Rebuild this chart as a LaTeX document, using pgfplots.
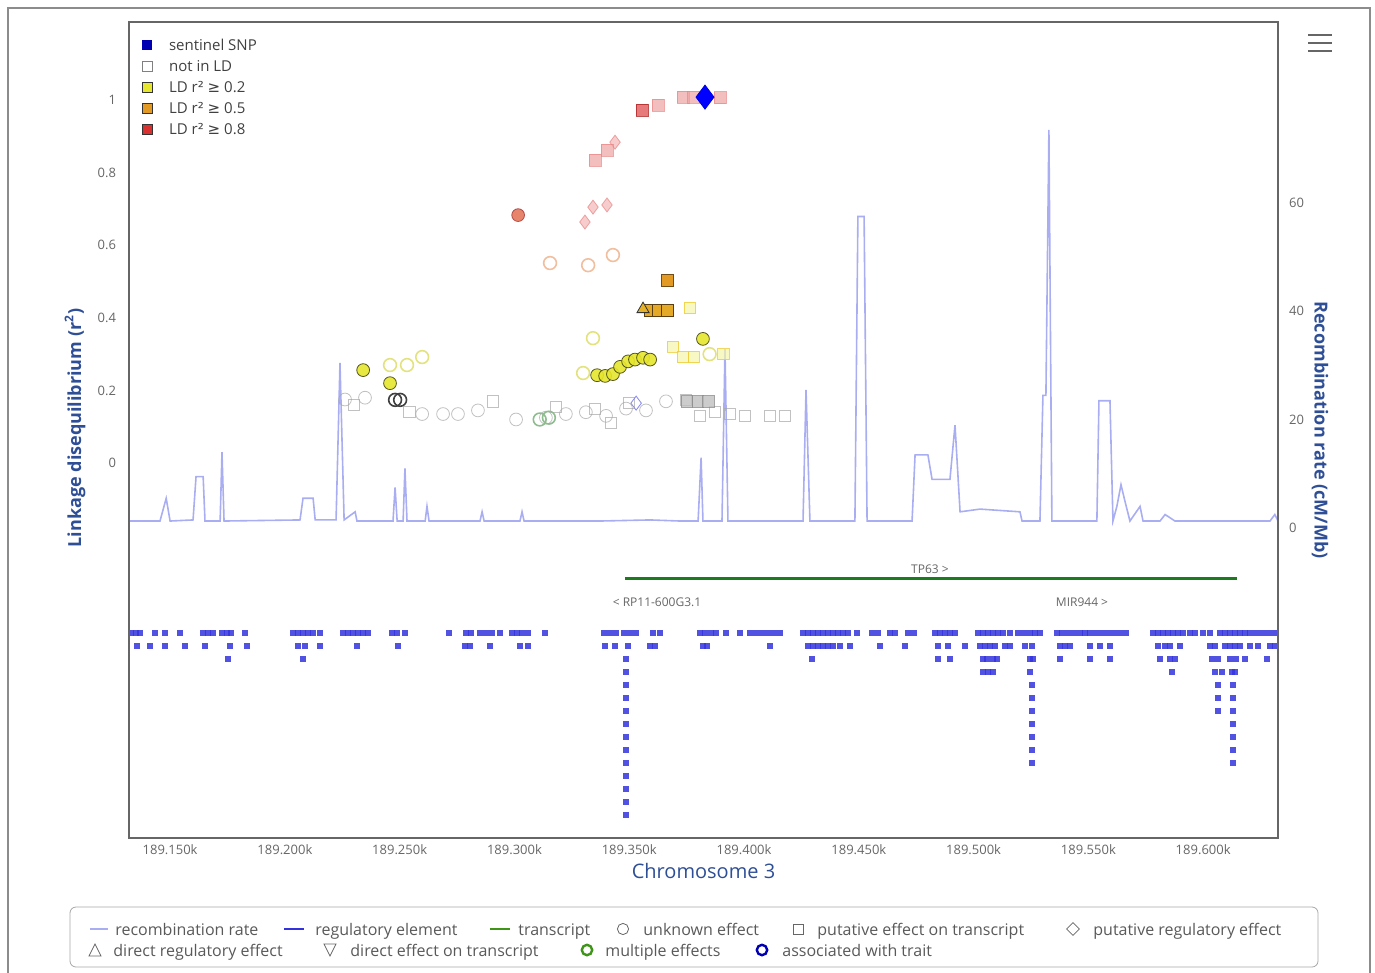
\documentclass[border=0pt]{standalone}
\usepackage{pgfplots}
\pgfplotsset{compat=1.18}
\usepackage{fontspec}
\setmainfont{Open Sans}
\newfontfamily\djv{DejaVu Sans}
\definecolor{recb}{HTML}{A9AEF2}
\definecolor{regb}{HTML}{3333DD}
\definecolor{grn}{HTML}{1E7A1E}
\definecolor{lab}{HTML}{2E4E96}
\definecolor{tk}{HTML}{666666}
\definecolor{yel}{HTML}{E6E62E}
\definecolor{org}{HTML}{E39A25}
\definecolor{rd}{HTML}{D93030}
\pgfplotsset{common/.style={scale only axis, width=574.5pt, height=408pt,
  at={(64.5pt,-419pt)}, anchor=south west, clip=true, scaled x ticks=false,
  major tick length=0pt, /pgf/number format/assume math mode=true,
  tick label style={font=\fontsize{6.5}{7}\selectfont, color=tk}}}
\begin{document}
\begin{tikzpicture}
\path[use as bounding box] (0,0) rectangle (687.5pt,-486.5pt);
\draw[color=black!45, line width=0.6pt] (4pt,-4pt) rectangle (685pt,-500pt);
% px axis: genes and regulatory elements
\begin{axis}[common, xmin=129, xmax=1278, ymin=22, ymax=838, y dir=reverse,
  axis lines=none, xtick=\empty, ytick=\empty]
\addplot[grn, line width=1.5pt] coordinates {(625,578) (1237,578)};
\addplot[only marks, mark=square*, mark size=1.1pt, regb, opacity=0.85] coordinates {
(131,633)(136,633)(140,633)(155,633)(165,633)(180,633)(203,633)(208,633)(213,633)(222,633)(227,633)(231,633)(245,633)
(293,633)(298,633)(303,633)(308,633)(313,633)(320,633)(343,633)(348,633)(353,633)(358,633)(363,633)(368,633)(392,633)(397,633)(405,633)
(449,633)(466,633)(471,633)(480,633)(486,633)(492,633)(500,633)(512,633)(517,633)(522,633)(528,633)(545,633)
(604,633)(610,633)(616,633)(624,633)(630,633)(636,633)(653,633)(660,633)(700,633)(705,633)(711,633)(716,633)(726,633)(740,633)
(750,633)(756,633)(762,633)(768,633)(774,633)(780,633)(803,633)(808,633)(813,633)(818,633)(823,633)(828,633)(833,633)(838,633)(843,633)(848,633)
(857,633)(872,633)(878,633)(890,633)(895,633)(908,633)(914,633)(935,633)(940,633)(945,633)(950,633)(955,633)
(978,633)(983,633)(988,633)(993,633)(998,633)(1003,633)(1010,633)(1018,633)(1024,633)(1030,633)(1035,633)(1040,633)
(1057,633)(1062,633)(1068,633)(1074,633)(1080,633)(1085,633)(1090,633)(1096,633)(1102,633)(1108,633)(1114,633)(1120,633)(1126,633)
(1153,633)(1158,633)(1163,633)(1168,633)(1173,633)(1178,633)(1183,633)(1190,633)(1195,633)(1203,633)(1210,633)
(1220,633)(1225,633)(1230,633)(1235,633)(1240,633)(1245,633)(1250,633)(1256,633)(1262,633)(1268,633)(1274,633)
(137,646)(150,646)(165,646)(185,646)(205,646)(230,646)(247,646)(298,646)(305,646)(320,646)(357,646)(398,646)
(465,646)(470,646)(490,646)(520,646)(528,646)(605,646)(615,646)(628,646)(650,646)(655,646)(703,646)(707,646)(770,646)
(808,646)(813,646)(818,646)(823,646)(828,646)(833,646)(840,646)(850,646)(880,646)(905,646)(938,646)(948,646)
(965,646)(980,646)(985,646)(990,646)(995,646)(1005,646)(1010,646)(1025,646)(1032,646)(1060,646)(1065,646)(1070,646)
(1090,646)(1100,646)(1110,646)(1158,646)(1165,646)(1170,646)(1180,646)(1210,646)(1215,646)(1225,646)(1230,646)
(1235,646)(1240,646)(1250,646)(1258,646)(1270,646)(1275,646)
(228,659)(303,659)(626,659)(812,659)(938,659)(950,659)(983,659)(987,659)(993,659)(997,659)(1030,659)(1033,659)
(1060,659)(1090,659)(1110,659)(1160,659)(1170,659)(1175,659)(1212,659)(1218,659)(1230,659)(1236,659)(1245,659)(1267,659)
(626,672)(983,672)(988,672)(993,672)(1030,672)(1172,672)(1215,672)(1222,672)(1232,672)(1235,672)
(626,685)(626,698)(626,711)(626,724)(626,737)(626,750)(626,763)(626,776)(626,789)(626,802)(626,815)
(1032,685)(1032,698)(1032,711)(1032,724)(1032,737)(1032,750)(1032,763)
(1233,685)(1233,698)(1233,711)(1233,724)(1233,737)(1233,750)(1233,763)(1218,685)(1218,698)(1218,711)};
\end{axis}
% recombination axis
\begin{axis}[common, xmin=189132.1, xmax=189632.6, ymin=-57.2, ymax=93.4,
  axis x line=none, axis y line*=right, y axis line style={draw=none},
  ytick={0,20,40,60}, yticklabel style={xshift=2pt}]
\addplot[recb, line width=0.8pt] coordinates {
(189132.1,1.3)(189145.6,1.3)(189148.3,5.5)(189150,1.3)(189160.0,1.5)(189161.3,9.5)(189164.4,9.5)(189165.2,1.3)
(189171.8,1.3)(189172.6,14)(189173.5,1.3)(189206.6,1.5)(189207.9,5.5)(189212.3,5.5)(189213.2,1.5)
(189222.3,1.5)(189224.0,30.5)(189225.8,1.5)(189230.6,3)(189231.4,1.3)(189247.1,1.3)(189248.0,7.5)(189248.9,1.3)
(189251.5,1.3)(189252.3,11)(189253.2,1.3)(189261.1,1.3)(189261.9,4)(189262.8,1.3)(189285.0,1.3)(189285.9,3)(189286.8,1.3)
(189302.4,1.3)(189303.3,3)(189304.2,1.3)(189337.3,1.3)(189359.1,1.5)(189372.1,1.3)(189380.0,1.3)(189381.3,13)(189382.1,1.3)
(189390.4,1.3)(189391.7,33)(189393.0,1.3)(189425.7,1.3)(189427.0,25.5)(189428.7,1.3)(189448.3,1.3)(189449.6,57.5)
(189452.3,57.5)(189453.6,1.3)(189473.2,1.3)(189474.5,13.5)(189480.1,13.5)(189481.9,9)(189489.7,9)(189491.9,19)(189494.1,3)
(189502.8,3.5)(189520.2,3)(189521.1,1.3)(189528.9,1.3)(189530.2,24.5)(189531.5,24.5)(189532.8,73.5)(189534.1,1.3)
(189553.7,1.3)(189554.6,23.5)(189559.4,23.5)(189560.7,1.3)(189562.4,4)(189564.2,8)(189565.9,5)(189568.1,1.3)
(189572.5,4)(189573.8,1.3)(189581.2,1.3)(189583.4,2.5)(189587.7,1.3)(189629.1,1.3)(189631.2,2.5)(189632.6,1.3)};
\end{axis}
% main LD axis
\begin{axis}[common, xmin=189132.1, xmax=189632.6, ymin=-1.033, ymax=1.215,
  axis line style={draw=black!60, line width=1pt},
  xtick={189150,189200,189250,189300,189350,189400,189450,189500,189550,189600},
  xticklabels={189.150k,189.200k,189.250k,189.300k,189.350k,189.400k,189.450k,189.500k,189.550k,189.600k},
  ytick={0,0.2,0.4,0.6,0.8,1}, yticklabels={0,0.2,0.4,0.6,0.8,1}, yticklabel style={xshift=-3pt},
  xlabel={Chromosome 3}, xlabel style={font=\fontsize{10}{12}\selectfont, color=lab, yshift=3pt}]
% not in LD
\addplot[only marks, mark=o, mark size=3.2pt, black!35, opacity=0.7] coordinates {
(189226.2,0.175)(189234.9,0.180)(189259.8,0.135)(189268.9,0.135)(189275.4,0.135)(189284.1,0.145)(189300.7,0.120)
(189313.7,0.125)(189322.4,0.135)(189331.1,0.140)(189339.9,0.130)(189348.6,0.150)(189357.3,0.145)(189366.0,0.170)};
\addplot[only marks, mark=square, mark size=2.8pt, black!35, opacity=0.7] coordinates {
(189230.2,0.160)(189254.2,0.140)(189290.7,0.170)(189318.0,0.155)(189335.2,0.150)(189350.0,0.165)(189374.7,0.175)
(189380.8,0.130)(189387.4,0.140)(189393.9,0.135)(189400.4,0.130)(189411.3,0.130)(189417.8,0.130)(189342.0,0.110)};
\addplot[only marks, mark=o, mark size=3.2pt, black!75, line width=0.8pt] coordinates {(189248.0,0.174)(189250.2,0.174)};
\addplot[only marks, mark=o, mark size=3.2pt, grn!50, line width=0.8pt] coordinates {(189311.0,0.120)(189315.0,0.125)};
\addplot[only marks, mark=square*, mark size=2.8pt, black!45, fill=black!25, opacity=0.8] coordinates {(189375.0,0.170)(189380.0,0.170)(189384.5,0.170)};
\addplot[only marks, mark=diamond, mark size=3.5pt, regb!60] coordinates {(189353.0,0.165)};
% LD >= 0.2
\addplot[only marks, mark=*, mark size=3.2pt, draw=black!70!yel, fill=yel, opacity=0.9] coordinates {
(189336.0,0.242)(189339.5,0.240)(189342.9,0.245)(189346.0,0.265)(189349.5,0.280)(189352.5,0.285)(189356.0,0.290)(189359.1,0.285)
(189382.1,0.342)(189234.1,0.256)(189245.8,0.220)};
\addplot[only marks, mark=o, mark size=3.2pt, yel!90!black, opacity=0.6, line width=0.8pt] coordinates {
(189334.2,0.344)(189245.8,0.270)(189253.2,0.270)(189259.8,0.292)(189329.9,0.248)(189385.0,0.300)};
\addplot[only marks, mark=square*, mark size=2.8pt, draw=yel!70!orange, fill=yel!40, opacity=0.7] coordinates {
(189369.1,0.320)(189373.4,0.292)(189378.0,0.292)(189376.5,0.427)(189391.0,0.300)};
% LD >= 0.5
\addplot[only marks, mark=square*, mark size=3pt, draw=black!60!org, fill=org!80!yel] coordinates {
(189359.1,0.421)(189362.5,0.421)(189366.5,0.421)};
\addplot[only marks, mark=triangle*, mark size=3.5pt, draw=black!80, fill=org!70!yel] coordinates {(189356.0,0.424)};
\addplot[only marks, mark=square*, mark size=3pt, draw=black!50!org, fill=org] coordinates {(189366.5,0.504)};
\addplot[only marks, mark=o, mark size=3.2pt, rd!40!org, opacity=0.45, line width=0.8pt] coordinates {
(189315.5,0.551)(189332.1,0.545)(189342.9,0.573)};
% LD >= 0.8 (faded)
\addplot[only marks, mark=*, mark size=3.2pt, draw=rd!70!black, fill=rd!70!org, opacity=0.7] coordinates {(189301.6,0.683)};
\addplot[only marks, mark=diamond*, mark size=3.5pt, draw=rd!60, fill=rd!35, opacity=0.7] coordinates {
(189334.2,0.705)(189340.3,0.711)(189330.7,0.664)(189343.8,0.884)};
\addplot[only marks, mark=square*, mark size=3pt, draw=rd!60, fill=rd!45, opacity=0.7] coordinates {
(189335.1,0.835)(189340.3,0.862)(189362.5,0.986)(189373.4,1.008)(189389.5,1.006)(189378.0,1.008)};
\addplot[only marks, mark=square*, mark size=3pt, draw=rd!80!black, fill=rd!80, opacity=0.8] coordinates {(189355.6,0.972)};
% sentinel
\addplot[only marks, mark=diamond*, mark size=6pt, draw=blue!90!black, fill=blue] coordinates {(189383.0,1.008)};
\end{axis}
% axis titles
\node[rotate=90, font=\fontsize{9}{10}\selectfont\bfseries, color=lab] at (37.5pt,-214pt) {Linkage disequilibrium (r\textsuperscript{2})};
\node[rotate=-90, font=\fontsize{9}{10}\selectfont\bfseries, color=lab] at (660pt,-215pt) {Recombination rate (cM/Mb)};
% gene labels
\node[font=\fontsize{6}{7}\selectfont, color=black!60, anchor=base] at (465pt,-286.5pt) {TP63 >};
\node[font=\fontsize{6}{7}\selectfont, color=black!60, anchor=base] at (328.5pt,-303pt) {< RP11-600G3.1};
\node[font=\fontsize{6}{7}\selectfont, color=black!60, anchor=base] at (541pt,-303pt) {MIR944 >};
% top-left legend
\begin{scope}[font=\fontsize{7.5}{8}\selectfont, color=black!75]
\fill[blue!70!black] (71pt,-20pt) rectangle (76pt,-25pt);
\draw[black!50] (71pt,-30.5pt) rectangle (76pt,-35.5pt);
\filldraw[draw=black!80, fill=yel] (71pt,-41pt) rectangle (76pt,-46pt);
\filldraw[draw=black!80, fill=org] (71pt,-51.5pt) rectangle (76pt,-56.5pt);
\filldraw[draw=black!80, fill=rd] (71pt,-62pt) rectangle (76pt,-67pt);
\node[anchor=west] at (81pt,-22.5pt) {sentinel SNP};
\node[anchor=west] at (81pt,-33pt) {not in LD};
\node[anchor=west] at (81pt,-43.5pt) {LD r{\djv²} {\djv≥} 0.2};
\node[anchor=west] at (81pt,-54pt) {LD r{\djv²} {\djv≥} 0.5};
\node[anchor=west] at (81pt,-64.5pt) {LD r{\djv²} {\djv≥} 0.8};
\end{scope}
% hamburger
\foreach \yy in {-17.5,-21.5,-25.5} \draw[black!60, line width=1.4pt] (654pt,\yy pt) -- (666pt,\yy pt);
% bottom legend
\draw[black!35, rounded corners=3pt] (35pt,-453.5pt) rectangle (659pt,-483.5pt);
\begin{scope}[font=\fontsize{8}{9}\selectfont, color=black!65, every node/.style={anchor=base west, inner sep=0pt}]
\def\ra{-467.5pt}\def\rb{-478pt}
\draw[recb, line width=0.8pt] (45pt,-464.5pt) -- (54pt,-464.5pt);
\node at (57.5pt,\ra) {recombination rate};
\draw[regb, line width=1.2pt] (142pt,-464.5pt) -- (152pt,-464.5pt);
\node at (157.5pt,\ra) {regulatory element};
\draw[grn!80!lime, line width=1.2pt] (245pt,-464.5pt) -- (255pt,-464.5pt);
\node at (259pt,\ra) {transcript};
\draw[black!60] (311.5pt,-464.5pt) circle (2.8pt);
\node at (321.5pt,\ra) {unknown effect};
\draw[black!60] (396.5pt,-462pt) rectangle (401.5pt,-467pt);
\node at (408.5pt,\ra) {putative effect on transcript};
\draw[black!60] (536.5pt,-461.3pt) -- (539.7pt,-464.5pt) -- (536.5pt,-467.7pt) -- (533.3pt,-464.5pt) -- cycle;
\node at (546.5pt,\ra) {putative regulatory effect};
\draw[black!60] (44.5pt,-478pt) -- (47.5pt,-472pt) -- (50.5pt,-478pt) -- cycle;
\node at (56.5pt,\rb) {direct regulatory effect};
\draw[black!60] (162pt,-472pt) -- (165pt,-478pt) -- (168pt,-472pt) -- cycle;
\node at (175pt,\rb) {direct effect on transcript};
\draw[grn!80!lime, line width=1.2pt] (293.5pt,-475pt) circle (2.6pt);
\node at (302.5pt,\rb) {multiple effects};
\draw[blue!70!black, line width=1.2pt] (381pt,-475pt) circle (2.6pt);
\node at (391pt,\rb) {associated with trait};
\end{scope}
\end{tikzpicture}
\end{document}
